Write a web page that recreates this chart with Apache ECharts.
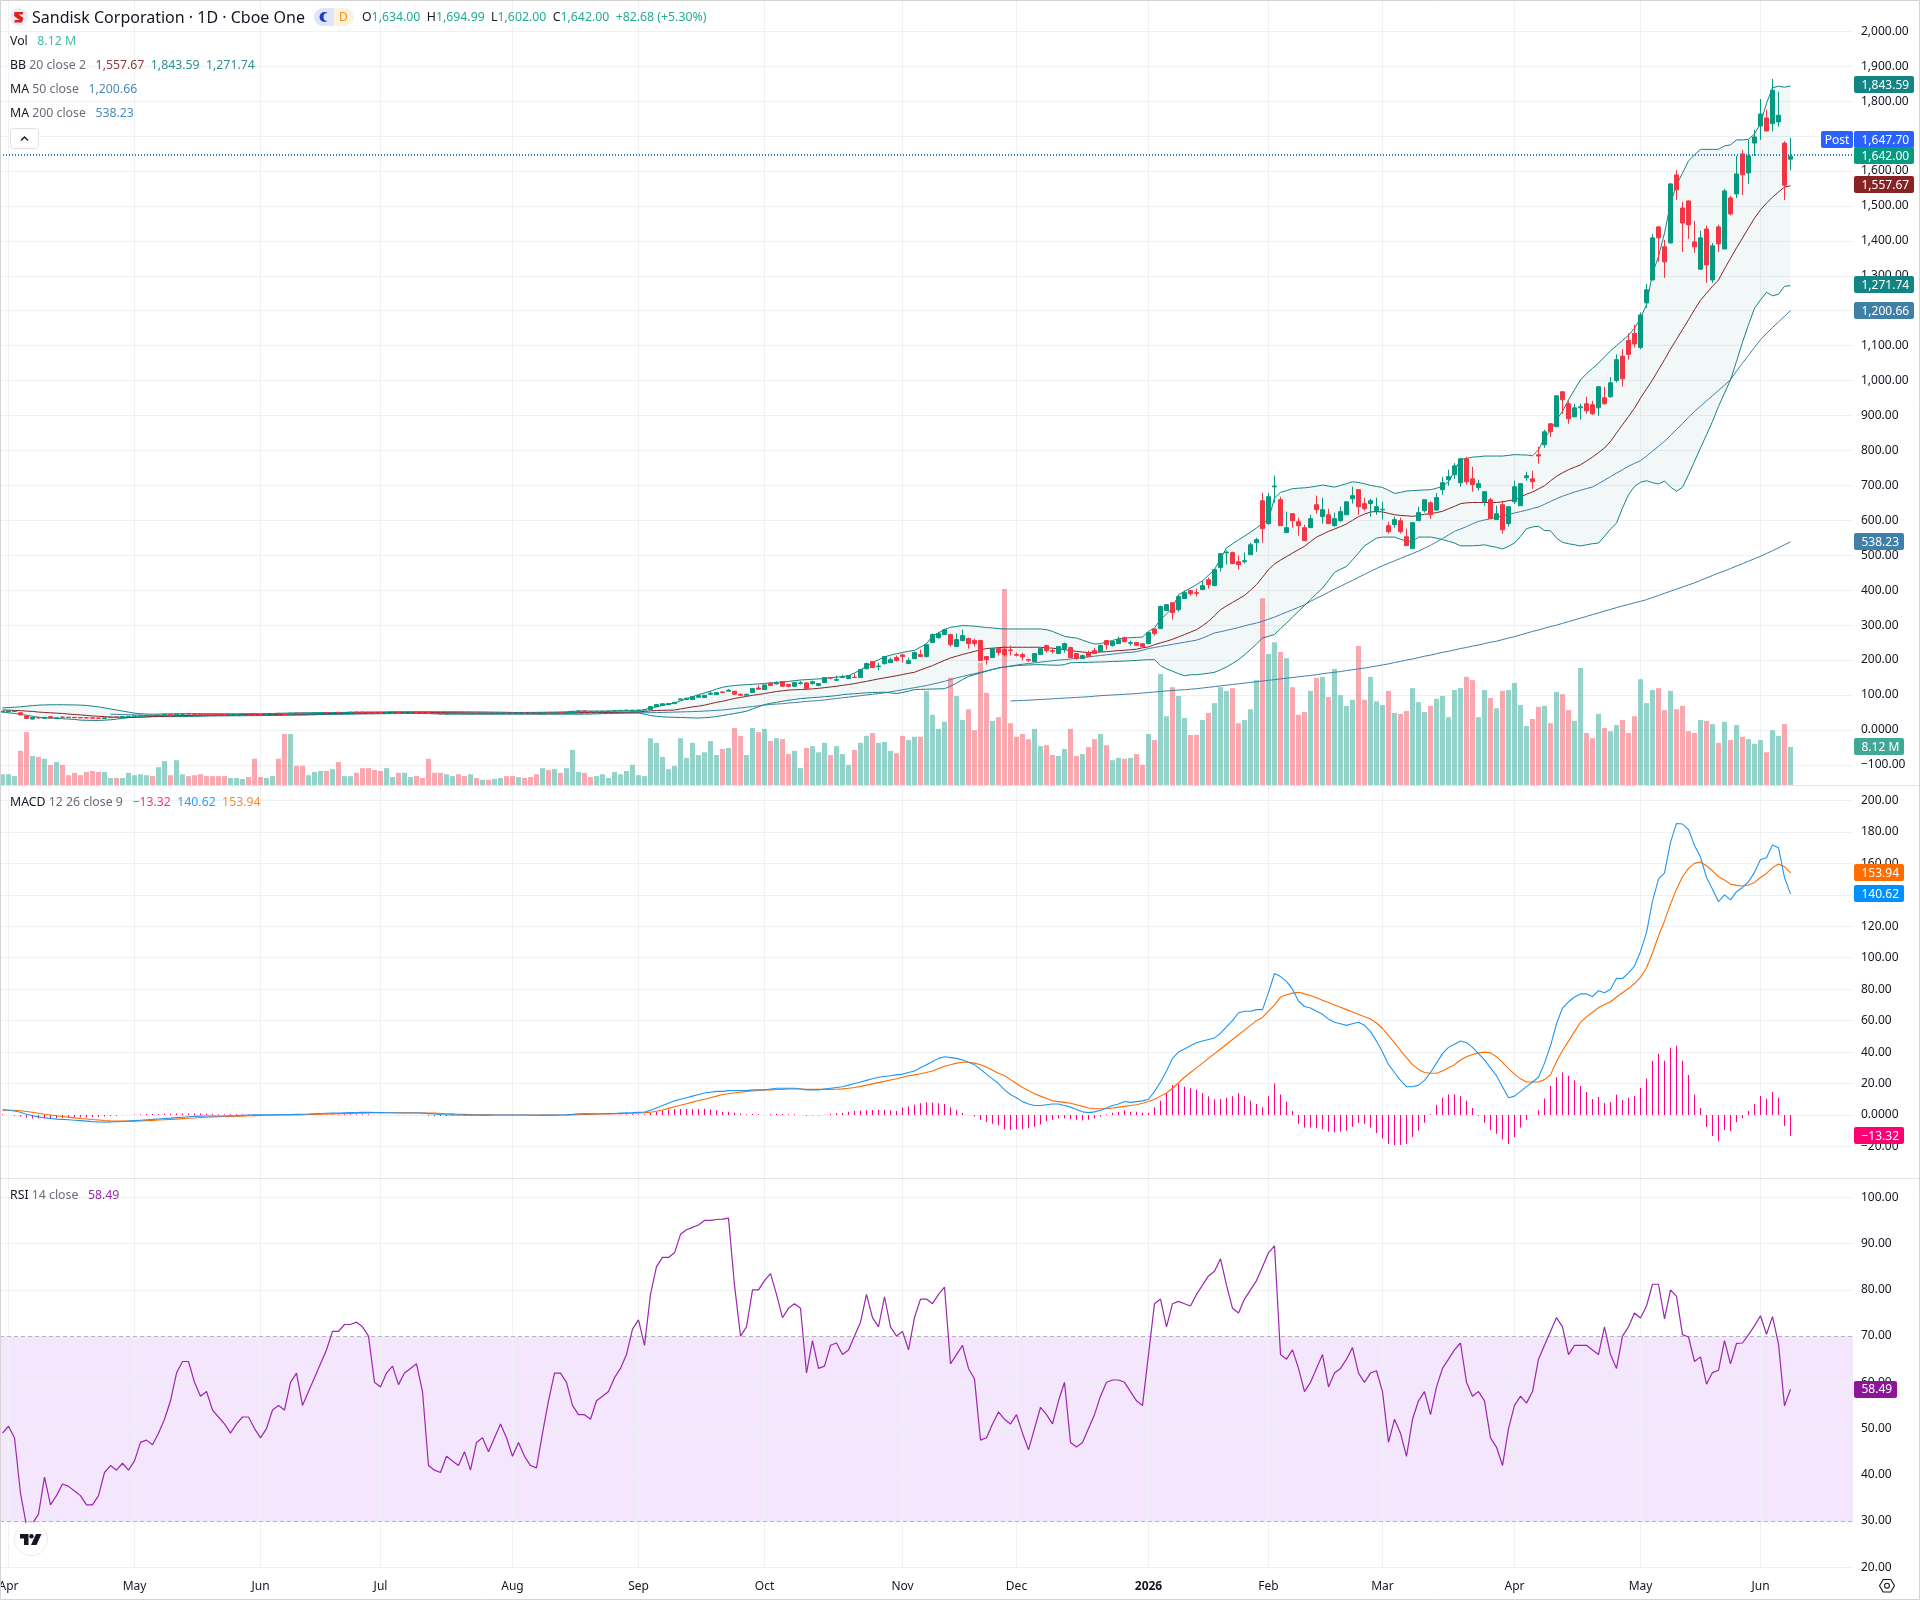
<!DOCTYPE html>
<html>
<head>
<meta charset="utf-8">
<title>Sandisk Corporation 1D</title>
<script src="https://cdn.jsdelivr.net/npm/echarts@6/dist/echarts.min.js"></script>
<style>html,body{margin:0;padding:0;background:#fff}#chart{width:1920px;height:1600px}</style>
</head>
<body>
<div id="chart"></div>
<script>
// Daily bars, oldest first: open, high, low, close, volume (millions)
const opens = [
51,52,53,49,40,31,36,33,38,33,
37,36.5,36,35.5,35,34.5,34,33,35,37,
37,38,39,40,40.5,41.5,40.5,43,44.5,43.5,
45,46,45.5,45,44.5,44,44,43.5,43,44,
45,46,47,44.5,44,45,47.5,46.5,44,48,
47.5,46.5,47.5,48.5,49.5,48.5,50.5,49,50,51,
51,50.5,50,49.5,48.5,50,50.5,49.5,50.5,51,
50.5,50.5,47.5,46.5,45.5,47,48,47,46,47.5,
46.5,47.5,46.5,47.5,48.5,48,47,48.5,47.5,47,
45.5,48,46.5,49,47,50,53,54.5,52.5,51,
52,53,54,55,56,54,55,57,58,66.8,
70,72.5,75.3,86,87,87,93.5,92.6,102,101,
108.8,110.7,110.7,102,99.2,106.9,120,115.5,133.6,131.7,
138.3,129.8,125,133,134.6,132.6,127,135.5,149.8,142,
149.8,147,151,149.8,175.6,195.6,181,189.9,192.7,207,
214.7,189.9,204,215.6,210,250,264,272.8,272.8,238.5,
255.7,261.4,255.7,255.7,210,207,232.8,230,229,215.6,
215.6,201.3,195.6,215.6,241.4,227,218.5,232.8,235.6,218.5,
204,221.3,227,224,255.7,241.4,247,264,248,250,
247,247,289,290,341.5,364,344,376,398.8,393,
401.6,430,413,464.6,507,507.5,481.7,481.7,501.8,536,
656,590.4,696,659,564.7,619,596,579,579,644.8,
610.5,616,584.7,599,616,662,687.7,647.7,647.7,627.6,
630,584.7,587.6,599,553,519,599,627.6,650,629.5,
687.7,716,730.6,707.7,776,719,693.4,653.3,659,602,
644.8,590.4,653.3,641.9,722,719,787.8,816.4,876.5,868,
968,933.7,896.5,922,933.7,931,922,951,953.8,1000,
1070,1115,1135,1095,1222.6,1288,1440,1383,1394,1588.9,
1494,1514.5,1397,1319,1434,1288,1440,1377,1523,1534.5,
1649,1594.6,1680,1729,1752,1735.7,1740.5,1680,1634];
const highs = [
54,56,54.5,50,41,36.5,37,37,39,36,
38,37,36.5,36,35.5,35,34.5,35,37,37.5,
38.5,39.5,40.5,41,41.5,42,43,45,45,45.5,
46,46.5,46,45.5,45,44.5,44.3,44,44,45,
46,46.5,47.5,45,45,46.5,48,47,48,48.5,
48,47.5,48.5,49.5,50,50,51,50,51,51.5,
51.5,51,50.5,50,50,51,51,50.5,51,51.5,
51,51,48,47,47,48,48.5,47.5,47.5,48,
47.5,48,47.5,48.5,49,48.5,48.5,49,48,47.5,
48,48.5,49,49.5,50,54,54.5,55,53,52.5,
53.5,54,55.5,56,57,57,57.5,58,67,73,
76,76,80,89.5,91.5,96,99,100,110.7,107.5,
110,117,111.5,104,103,118.8,128,129.5,137,139,
139,130,138,140,136,141,134,151,151,155.5,
158,156,161,174,192.7,197,192,210,207,212.8,
218.5,207,224,230,247,275.7,281,290,275.7,275.7,
287,264,261.4,258.5,210,233,235.6,241,241,221,
221,204,219,233,244,232.8,239,250,238.5,221,
215.6,227,235.6,244,256,255.7,267,267,255.7,251,
248,281.5,289,356,359,364.4,387,398.8,401.6,404.5,
427,436,461.7,506.5,513,510,499,507.5,536,550,
679,679,727.8,667.7,624.8,619,607.6,587.6,616,670.6,
664.8,633,622,639,653,696,688,665,662,665,
653,596,610.5,607.6,576,593.5,639,659,655,678,
724,745,764,779,782,753.5,716,684,665,642,
656,640,713.4,705,739,742,810.7,859.3,877,957,
968.5,942,933.7,933.7,953.8,942,985,982.4,1010,1075,
1090,1135,1160,1195,1277,1420,1443,1403,1566,1603,
1511.6,1515,1457,1428.7,1443,1394,1446,1549,1529,1643,
1660,1689,1718,1806,1775,1863.5,1827,1685,1694.99];
const lows = [
50,51,51,42,31,30,33,32,33.5,32,
35,35,34.5,34,33.5,33,33,32.8,34.8,36,
36.5,37.8,38.5,39.5,40,40,40.3,42.8,43,43.2,
44.5,45,44.5,44,43.5,43,43,42.5,42.8,43.8,
44.8,45,44,43.5,43.8,44.8,45.5,43,43.8,46.5,
46,46.2,47.2,48.2,48,48.3,48.5,48.8,49.8,50,
49.5,49,48.5,48,48.3,49.8,49,49.3,50.2,49.8,
49.5,47,46,45,45.3,46.8,46.5,45.5,45.8,46,
46.3,46,46.3,47.3,47,46.5,46.8,47,46,45,
45.3,46,46.3,46.5,46.8,49.8,52.5,52,50.5,50.8,
51.8,52.8,53.8,54.8,55.5,53.8,54.8,56.5,57.8,66,
69.5,72,75,85.5,86.5,86.5,93,92,101,100.5,
106,110,101.5,97.5,98.5,106,116,115,126,130.5,
124.5,122,124.5,130,117,130,125,134,146,141,
149,146,149,149,172.7,177,170,187,192,195.6,
192.7,189,204,209,207,249,261,272,238.5,238,
255,232.8,238.5,198,187,206,212.8,210,212.8,210,
198.4,194.6,195,215,221.3,218.5,218,221,207,201,
204,210,218,224,230,238.5,246,250,241.4,240,
237,247,270,290,341,315.8,338.7,376,384,381.6,
401,404.5,412,453,473,475,459,476,501,510,
536,587.6,650.5,584,564,579,556,541,578,619,
590.4,590,582,596,616,647.7,616,627.6,610,616,
602,562,579,562,527,518,598,622,604,627,
673,699,719,696,702,682,685,642,604,601,
561.8,581.8,647,642,713.4,690,762,807.8,839,868,
905,876.5,895,888,905,902,899.4,931,951,995,
983,1060,1095,1090,1208,1288,1340,1294,1394,1517,
1368.6,1406,1366,1317,1280,1280,1368,1375,1473,1523,
1531,1563,1643,1689,1713,1712.9,1727,1517,1602];
const closes = [
53,54,54,43,33,35.5,34,36,34,35,
36,35.5,35,34.5,34,33.5,33.2,34.5,36.5,36.4,
38,39,40,40.8,41,40.5,42.5,44.5,43.5,45,
45.8,45.4,45,44.5,44,43.5,43.4,43,43.8,44.8,
45.8,45.5,44.5,44,44.8,46.2,46,44,47.5,47,
46.5,47.2,48.2,49.2,48.5,49.8,49,49.8,50.8,50.4,
50,49.5,49,48.4,49.8,50.6,49.5,50.2,50.8,50.2,
50,47.5,46.5,45.5,46.8,47.8,47,46,47.2,46.5,
47.2,46.5,47.3,48.2,47.5,47,48.2,47.5,46.5,45.5,
47.5,46.5,48.5,47,49.5,53,54,52.5,51,52,
53,53.8,55,55.8,56.5,56.5,57,57.8,66.8,72.5,
75,75.5,79,88.8,90.7,95.4,98.3,99.3,105,106.9,
106.9,113.6,102.1,99.2,102,118.3,116.4,128.8,126.9,134.5,
125,125,135.5,134.5,118.3,138,132.6,149.8,148,144,
151.5,155.5,150,172.7,189.9,178.4,183,209.9,201,198.4,
210,198.4,221.3,210,244,272.8,275.7,287,244,258.5,
270,247,247,198.4,201.3,232.8,221.3,215.6,227,213.7,
209,199.4,218.5,232.8,227,225,238.5,247,207,204,
212.8,210,218.5,241.4,244,252.8,258.5,252.8,249.9,242.3,
238.5,278.6,275.7,353,358.7,336,381.6,393,390,391,
413,416,458.8,504.6,509,476,473,484.6,530,544.7,
576,667.7,698,584.7,579,599,584.7,541.8,604.7,630.5,
630.5,590.4,604.7,624.8,653,670.6,639,633,656,639,
632,567.6,601.9,567.6,527.5,593.3,622,659,616,665,
707.7,724.9,756,776,710.6,702,705,682,604.7,619,
573,639,696,704.8,727.7,710.6,784,853.6,853.6,956.6,
945,891,922,925,913.7,905,982.4,933.7,993.8,1060,
1005,1075,1105,1188,1259.8,1408.6,1408.6,1340,1563,1546,
1451,1445.8,1383,1408.6,1331,1385.7,1391.5,1543,1477,1591.7,
1589,1643,1697.6,1763,1714.8,1831,1759.6,1559.32,1642];
const volumes = [
2.3,2.3,1.9,7.3,11.3,6.2,6,5.6,4.3,4.9,
4.3,2.1,2.6,2.1,2.8,3,2.8,2.8,1.5,1.5,
1.5,2.6,2.1,2.3,2.1,1.9,3.8,5.1,2.1,5.3,
2.3,1.9,2.1,2.3,1.9,1.9,1.9,1.9,1.5,1.5,
1.3,1.7,5.6,1.7,1.5,1.9,5.6,10.9,10.9,4.1,
4.1,2.1,2.8,3,3,3.4,4.9,1.9,1.9,2.6,
3.6,3.6,3.2,3,3.6,1.7,2.6,2.6,1.7,1.9,
1.5,5.6,2.6,2.6,2.3,1.9,2.3,1.9,2.3,1.5,
1.1,1.1,1.3,1.5,1.9,1.9,1.7,1.5,1.7,2.3,
3.6,3.2,3.4,2.6,3.6,7.5,2.8,2.6,1.7,1.9,
2.3,1.5,2.8,2.3,3,4.3,2.1,1.9,10,9,
6,3.4,4.1,10,5.8,9,6.4,7,9.4,6.4,
7.7,7.9,12.2,10.5,6.4,12.2,11.3,12,9.4,10,
9.8,6.6,7.3,3.6,7.9,8.3,7,9,6.4,8.3,
6.6,4.3,7.5,9,10.5,11.1,9,9.2,7.3,6.8,
10.5,9.6,10.3,10.3,20.1,15,12,13.5,22.9,19,
13.9,16.2,11.7,26.1,19.7,13.7,14.5,41.9,13.2,10.3,
10.9,9.8,12,8.3,8.5,6.4,6.2,7.7,12,6.2,
6.6,8.1,9.8,10.9,8.5,5.3,5.8,5.6,5.8,6.6,
4.3,10.9,9.6,23.7,14.7,20.9,19,14.3,10.7,10.7,
13.9,15.4,17.5,20.9,20.1,20.7,13.2,13.9,16.2,22.4,
39.9,28,30.5,28.4,27.1,20.9,15,15.6,20.1,22.9,
23.1,18.8,24.8,19.2,16.9,18.2,29.7,18.2,23.1,17.9,
17.1,20.1,15.4,15.2,15.8,20.7,17.7,15.6,16.9,18.4,
19,14.5,20.3,20.7,23.1,22.4,14.5,20.3,18.6,16.4,
20.1,20.3,21.8,17.1,12.6,14.1,16.7,16.9,13.2,19.9,
19.4,16,13.7,25,11.1,10,15.2,12.2,11.5,12.8,
13.9,11.1,14.7,22.6,17.5,20.3,20.7,16,20.1,16.2,
16.9,11.5,11.1,13.9,13.7,13,9,13.5,9.6,12.8,
10.3,9.8,8.8,9.6,7,11.7,10.5,13,8.12];

// Bollinger Bands (20, close, 2)
const bbUpper = [
63,64,65,66,68,69.5,71,71.5,72,72,
72,71.8,71.5,71,70,68,66,63,60,57,
54,51,48,46.5,45.5,45,45.5,46,46,46.5,
46.5,46.5,46.5,46.5,46.5,46.5,46.5,46.3,46.2,46,
46,46,46.2,46.5,46.8,47,47.5,48,48.5,48.8,
49,49.2,49.3,49.4,49.5,49.5,49.8,50.2,50.5,50.8,
51,51.2,51.4,51.6,51.8,52,52,52,52,52,
52,52,52,52,52,52,51.9,51.8,51.7,51.6,
51.5,51.2,51,50.8,50.5,50,50,50,50.2,50.3,
50.5,50.8,51,51.5,52,53,54,54,54,54,
54,54,54.2,54.5,54.8,55,55,58,63,66,
70,74,77,83,89,95,101,106,111,117,
122,125,127,128.5,129.5,130.5,131.7,133,134.5,136,
137.5,139,141,143,144,145,146,147,149,151,
153,155,163,172,182,193,201,209,214,218,
222,225,228,237,247,268,278,287,294,296,
298.6,298,297,295,293,292,290,289,289,289,
289,289,289,289,287,282,275,268,265,263,
257,251,246,247,252,256,261,263,264,265,
266,282,292,316,332,349,387,397,406,416,
427,443,459,490,521,533,544,555,566,578,
592,602,664,680,685,690.6,692,693,695,698,
701,698,695,700,705,710.6,708,705,700,697,
694,686,677,680,684,685,686,687,687.7,692,
697,711,740,775,777,781,782,784,784,784,
784,786,788,787.5,787,785,802,836,857,888,
912,945,974,1002,1020,1035,1050,1068,1085,1100,
1115,1130,1150,1179,1217,1307,1355,1422,1508,1560,
1594,1629,1646,1662,1662,1662,1662,1672,1675,1689,
1689,1691,1706,1737,1794,1838,1843,1840,1843.59];
const bbBasis = [
57,56.5,56,55,54,53,51,50,49,48,
47,45.5,44,43,41.5,40,39,38,37,36.5,
36,36,36,36.5,37,38,38.5,39,39.7,40.4,
41,41.5,41.9,42.3,42.7,43,43.2,43.5,43.7,43.8,
44,44,44,44,44,44,44.3,44.6,45,45.2,
45.5,45.8,46,46.4,46.7,47,47.4,47.8,48.2,48.6,
49,49.2,49.4,49.6,49.8,50,50,50,50,50,
50,49.8,49.6,49.4,49.2,49,48.8,48.6,48.4,48.2,
48,47.9,47.8,47.7,47.6,47.5,47.6,47.6,47.7,47.7,
47.8,47.9,48,48.2,48.5,48.8,49.2,49.5,49.8,50,
50.2,50.4,50.6,50.8,51,51.3,51.6,53,54.5,55.5,
56,56.5,57,60,63,66,68,71,75,79,
82,86,90,93,96,99,101.5,104,107,110,
112,114,115,115.5,116.5,117.5,119,121,123,125,
127.5,130,132.6,136,139,142.5,146,149,152,155,
158.5,162,165,172,178,184,192,199,206,211,
216,220.4,225,229,233,234,235.5,236.6,236.6,236.6,
236.6,236.6,236.6,236.6,235,234,232,230,227,225,
223,221.3,222,223,224,225.5,227,228,229.5,231,
235,237.6,244,249,254,259.5,266,273,280,287,
298,311,327,344,355,365,375,385,400,416,
437,459,475,486,496,506.5,516,525.6,539,552,
560,568.5,575,582,589.5,600,610.5,618,624,625,
624,620,616,614,613,611.5,614,617,619.5,622,
626,633,640,647.6,650,651,651,651,651,651,
653,656,659,667,675,681,690,699,713,726,
736,745,752,759,770,781,794,807,826,850,
873.6,897,921,950,976,1002,1031,1060,1090,1118,
1146,1174,1203,1230,1250,1270,1288,1320,1350,1380,
1408,1437,1465,1489,1508,1525,1540,1554,1557.67];
const bbLower = [
51.6,49,47,45,42,39,36,35,34,33,
32,31,30,28,27.5,27.2,27,28,29,31,
33,35,37,37.5,38,38,38,38,38,38,
38,38.5,39,39.6,40.4,41,41.3,41.6,41.8,42,
42,42,42,42,42,42,42.3,42.5,42.8,43,
43,43.4,43.8,44.2,44.6,45,45.4,45.8,46.2,46.6,
47,47.2,47.4,47.6,47.8,48,47.8,47.6,47.4,47.2,
47,46.6,46.2,45.8,45.4,45,45,45,45,45,
45,45,45,45,45,45,45,45,45,45,
45,45,45,45,45,45,45,45,45.5,46,
46.5,47,47.5,48,48.3,48.5,48.7,45,41,39,
37.5,36.5,36,35.5,35,34.5,34,35,36,38.5,
41,44,47,50,53.5,60,66,72.6,76,79,
82,85,87,89.7,91,92.5,93.5,95,96.5,98,
101,102.5,103.5,105,106,107,107.5,108,106,104,
107,111,115.5,116,116.5,117,117.5,118,125,134,
144,153,158,163,168,173,177.5,180,182,184,
185,186,186.5,187,186,185.5,185,187,192,193,
193,193.5,194,194.5,195,196,196.5,197,198,199,
200,201,201,184,174.6,168,161,155,158,158,
160,162,165,172,180,190,201,215,230,246,
263,268,273,290,306,323,339.6,356,373,390,
406,428,451,460,468,487,506.5,527,538,549,
552,552,552,546,540,540,552,552,552,549,
544.6,540,535,527,527,527,528,530,526,522.7,
518,525.5,535,554,576,581,583,571,570,549.4,
537,533,530,526.5,530,533,535,554,575,592,
635,673.4,697,708.7,713.4,707.7,704,712.5,695.3,683,
695,730.6,768.7,807,845,883,926,964,1002,1055,
1110,1160,1207,1231,1253,1242.7,1247,1270,1271.74];

// Moving averages of close; null until enough history exists
const ma50 = [
null,null,null,null,null,null,null,null,null,null,
null,null,null,null,null,null,null,null,45,44.5,
44,43.5,43,42.5,42,41.5,41,40.8,40.6,40.4,
40.2,40.1,40,40,40,40,40,40.1,40.2,40.3,
40.5,40.7,40.9,41.1,41.3,41.5,41.8,42.1,42.4,42.7,
43,43.3,43.6,43.9,44.2,44.5,44.8,45,45.2,45.4,
45.6,45.8,46,46.2,46.4,46.6,46.8,47,47.2,47.3,
47.4,47.5,47.6,47.7,47.8,47.9,48,48,48,48,
48,48,48,48,48,48,48,48,48,48,
48,48,48,48,48.1,48.2,48.3,48.4,48.5,48.6,
48.7,48.8,48.9,49,49,49,49,49.2,49.4,49.7,
50,50.5,51,51.5,52,52.5,53,54,55,56,
57,59,61,63,65,67,69,71,73,74,
75,77,78.5,80,81.5,83,84,86,88,90,
92,94,96,98,100,102,104,106,109,112,
115,118,121,124,127,131,135,139,144,149,
153,157,161,165,169,173,177,180,183,185.5,
188,190,192,194,196,198,200,201,203,205,
207,209,211,213,215,217,219,221,222,224,
228,233,236,239,242,245,248,251,254,257,
263,270,277.6,281,285,289,293,298,302,306,
311,317,323,330,337,344,351,358,368,377,
385,394,403,411,420,428,437,445,454,462,
470,477,484,491,498,505,512,520,528.4,538,
548,558,568.5,575,582,590,597,601,605,609,
613,617,621,625,629,634,638,646,654,662,
669,675,681,686,691,695.3,705,715,725,735,
745,755,763,770.7,784,798,812,826,843,860,
877,895,911.8,927,942,957,972,987,1002.4,1027,
1050,1072,1095,1117,1135,1152,1168,1184,1200.66];
const ma200 = [
83,83.5,84.5,85,86,87,88,89,90,91,92,93,
94,95,96.5,98,99,100,101,102,103,104,
105.5,107,108.5,110,111.5,113,114,115,116.5,118,
120,122,124,126,128,130,132,134,136,138,
140,142,144,146,148,150,152,154,156,158,
161,163,165,167,170,172,175,177,180,183,
186,189,193,196,200,203,207,211,214,218,
222,225,229,233,236,240,243,247,251,254,
258.5,263,267,272,277,282,286,291,296,300,
305,310,315,320,325,330,335,340,345,350,
355,359,364,368,373,379,385,391,397,403,
409,415,421,428,435,442,449,455,462,469,
476,483,490,497,505,513,521,530,538.23];
const ma200Start = 168;

// MACD (12, 26, close, 9)
const macdLine = [
3.5,3,2.5,1.8,.5,-.5,-1.2,-1.8,-2.2,-2.6,
-2.8,-3,-3.3,-3.6,-3.9,-4.2,-4.4,-4.5,-4.4,-4.3,
-4.1,-3.9,-3.6,-3.3,-3,-2.8,-2.5,-2.2,-2,-1.7,
-1.4,-1.1,-.9,-.7,-.6,-.6,-.6,-.6,-.5,-.4,
-.2,0,.1,.1,.1,.2,.3,.2,.3,.4,
.5,.6,.8,1,1.1,1.2,1.3,1.4,1.5,1.6,
1.7,1.7,1.6,1.5,1.4,1.4,1.3,1.3,1.3,1.3,
1.2,.9,.6,.3,.2,.1,0,-.1,-.1,-.1,
-.1,-.1,0,0,0,0,0,0,-.1,-.2,
-.1,-.1,0,0,.1,.4,.8,.9,.8,.8,
.8,.9,1,1.2,1.4,1.5,1.7,1.9,3,4.5,
6,7.5,9,10,11,12,13,14,14.5,15,
15,15.5,15.5,15.5,15.5,16,16,16,16.5,17,
17,17,17,16.5,16,16,16,16.5,17,17.5,
18,19,20,21,22,23,24,24.5,25,25.5,
26,27,28,30,32,34,36,37,36.5,36,
35,33.5,32,29,26,23,20,16,13,11,
8.5,7,6,6,6.5,7,7,6,5,3.5,
2,1.5,2,3,4.5,6,7,8.6,8,8.5,
9,10,15,21,28,36,40,42,44,46,
47,48,49,52,56,60,65,66,66,67,
67,78,90,88,85,80,72.5,69,68,66,
64,61,59,58,57,58,59,57,53,47,
40,32,27,22,18,18,19,22,27,33,
39,43,45,47,46,43,39,35,30,25,
18,11,12,15,18,21,24,33,44,58,
68,72,75,77,77,75.3,79,77.7,80,87,
86.8,90.4,94.7,104,116,136,150,154,173.4,185.4,
185,181.5,171.3,164,151,143.6,135.6,140,136.8,142,
144.7,148.3,154.3,162.4,163.6,171.7,170,151,140.62];
const macdSignal = [
3,3,3,2.7,2.2,1.7,1.1,.5,0,-.5,
-1,-1.4,-1.8,-2.2,-2.5,-2.9,-3.2,-3.5,-3.7,-3.8,
-3.9,-3.9,-3.9,-3.8,-3.6,-3.4,-3.2,-3,-2.8,-2.6,
-2.3,-2.1,-1.9,-1.6,-1.4,-1.2,-1.1,-1,-.9,-.8,
-.7,-.5,-.4,-.3,-.2,-.1,0,0,.1,.1,
.2,.3,.4,.5,.6,.7,.8,.9,1,1.1,
1.2,1.3,1.4,1.4,1.4,1.4,1.4,1.4,1.4,1.4,
1.3,1.3,1.2,1,.8,.7,.5,.4,.3,.2,
.1,.1,0,0,0,0,0,0,0,-.1,
-.1,-.1,-.1,0,0,.1,.2,.3,.4,.5,
.6,.7,.8,.9,1,1.1,1.3,1.5,1.8,2.4,
3.2,4.2,5.2,6.2,7.2,8.2,9.2,10,11,12,
13,13.5,14,14.5,15,15.3,15.6,16,16,16.2,
16.3,16.5,16.5,16.5,16.4,16.3,16.3,16.3,16.3,16.4,
16.6,17,17.5,18.2,19,19.8,20.6,21.4,22.2,23,
24,25,25.5,26.2,27,28,29.5,31,32,33,
33.5,33.5,33,32,30.5,28.5,26.5,25,22.5,20,
17.5,15.5,13.5,12,10.5,9,8.5,8,7.5,6.5,
5.5,4.5,4,4,4,4.5,5,5.5,6,6.5,
7.5,8.6,10,12,14,17,20.5,24,27,30,
33,36,39,42,45,48,51,54,57,60,
62,66,70,75,76.5,77.5,78,77,76,74.5,
73,71.5,70,68.5,67,65.5,64,62.5,61,58.5,
55,50.5,46,41,36.5,32,29,27,26.5,26.5,
28,30,32,35,37,38.5,39.5,40,39.5,37,
33.5,29.5,26,23,21,21,21,22.5,25.5,34,
41,47,53,59,62.4,65.3,68.3,70.2,72,75,
77.7,80.4,83.6,87.5,93.6,103,113.8,123.4,134,143.6,
151.5,156.8,160,160.9,158.5,155.3,151.5,149.4,146.8,146,
145.6,146.2,147.9,151,153.6,157.3,159.6,157.9,153.94];
const macdHist = [
.5,0,-.5,-.9,-1.7,-2.2,-2.3,-2.3,-2.2,-2.1,
-1.8,-1.6,-1.5,-1.4,-1.4,-1.3,-1.2,-1,-.7,-.5,
-.2,0,.3,.5,.6,.6,.7,.8,.8,.9,
.9,1,1,.9,.8,.6,.5,.4,.4,.4,
.5,.5,.5,.4,.3,.3,.3,.2,.2,.3,
.3,.3,.4,.5,.5,.5,.5,.5,.5,.5,
.5,.4,.2,.1,0,0,-.1,-.1,-.1,-.1,
-.1,-.4,-.6,-.7,-.6,-.6,-.5,-.5,-.4,-.3,
-.2,-.2,0,0,0,0,0,0,0,0,
0,0,.1,0,.1,.3,.6,.6,.4,.3,
.2,.2,.2,.3,.4,.4,.4,.4,1.2,2.1,
2.8,3.3,3.8,3.8,3.8,3.8,3.8,4,3.5,3,
2,2,1.5,1,.5,.7,.4,0,.5,.8,
.7,.5,.5,0,-.4,-.3,-.3,.2,.7,1.1,
1.4,2,2.5,2.8,3,3.2,3.4,3.1,2.8,2.5,
4.7,5.5,6.5,7.5,8,8,7.5,7,5,3,
1.5,0,-1,-3,-4.5,-5.5,-6.5,-9,-9.5,-9,
-9,-8.5,-7.5,-6,-4,-3,-2,-2,-2.5,-3,
-3.5,-3,-2,-1,.5,1.5,2,3,2,2,
1.5,1.4,5,9,14,19,19.5,18,17,16,
14,12,10,10,11,12,14,12,9,7,
5,12,20,13,8.5,2.5,-5.5,-8,-8,-8.5,
-9,-10.5,-11,-10.5,-10,-7.5,-5,-5.5,-8,-11.5,
-15,-18.5,-19,-19,-18.5,-14,-10,-5,.5,6.5,
11,13,13,12,9,4.5,-.5,-5,-9.5,-12,
-15.5,-18.5,-14,-8,-3,0,3,10.5,18.5,24,
27,25,22,18.5,14.7,10.2,11.5,7.7,8.3,12.8,
9.6,10.9,12.1,17.2,23,34.5,39,34.5,42.8,44,
34.5,25.5,12.8,4.5,-7.7,-13.4,-16.6,-9.6,-10.2,-4.5,
-1.9,2.6,7,12.1,10.2,14.7,10.9,-7,-13.32];

// RSI (14, close)
const rsiLine = [
49,50.5,48,36,29,29.5,31.5,39.5,33.5,35.5,
38,37.5,36.5,35.5,33.5,33.5,35.5,40.5,42,41,
42.5,41,43,47,47.5,46.5,49,52,56,62,
64.5,64.5,60,57,58,54,52.5,51,49,51,
52.5,52.5,50,48,50,54,55,54,60,62,
55,58,61,64,67,71,71,72.5,72.5,73,
72,70,60,59,62,63.5,59.5,62,63,64,
58,42,41,40.5,44,43,42,45,41,47,
48,45,48,51,48,44,47,44,42,41.5,
49,56,62,62,60,55,53,53,52,56,
57,58,61,63,66,71.5,73.5,68,79,85,
87,87,88,92,93,93.5,94,95,95,95.2,
95.3,95.5,81,70,72,80,80,82,83.5,79,
74,76,77,76,62,69,63,63.5,68,68.5,
66,67,70,73,79,74,72,78.5,72,70,
71,67,74,78,78,77,79,80.6,64,66,
68,63,60.7,47.5,48,51,53.6,52,51,53,
49,45.4,50,54.6,53,51,56,60,47,46,
47,50,53,57,60,60.5,60.5,60,58,56,
55,66,77,78,72,77,77.5,77,76.5,79,
81,83,84,86.7,81,76,75,78,80,82,
85,88,89.5,66,65,67,63,58,60,63,
66,59,62,63,65,67.5,62,60,62,62.5,
58,47,52,49,44,52,56,58,53,59,
63,65,67,68.5,60,57,58,56,48,46,
42,50,55,57,55.5,58,65,68,71,74,
72,66,68,68,68,67,66,72,66,63,
70,72,75,73.9,76.5,81.2,81.2,73.7,80,78.6,
70.3,69.8,64.5,65.5,59.6,62.1,62.6,69,64,68.4,
68.5,70.3,72.2,74.4,70.4,74.2,68.3,54.9,58.49];

// Axis ticks and month boundaries
const priceTicks = [-100,0,100,200,300,400,500,600,700,800,900,1000,1100,1200,1300,1400,1500,1600,1700,1800,1900,2000];
const macdTicks = [-20,0,20,40,60,80,100,120,140,160,180,200];
const rsiTicks = [20,30,40,50,60,70,80,90,100];
const monthBars = [1,22,43,63,85,106,127,150,169,191,211,230,252,273,293];
const monthNames = ['Apr','May','Jun','Jul','Aug','Sep','Oct','Nov','Dec','2026','Feb','Mar','Apr','May','Jun'];

// Pane extents in value space
const priceRange = [-157.7, 2086.7];
const volumeRange = [0, 167.5];
const macdRange = [-40.06, 209.2];
const rsiRange = [20, 103.96];

const UP = '#089981', DOWN = '#f23645';
const FONT = '"Noto Sans", sans-serif';
const INK = '#131722';
const GRID = '#f0f1f4';
const BAND_LINE = '#138484', BASIS_LINE = '#872323', MA_LINE = '#3f7fa8';
const ROW_FONT = '12.3px ' + FONT;

// Ten empty sessions of right margin follow the last bar.
const slotCount = 309;
const categories = Array.from({length: slotCount}, (_, i) => String(i));
const isUp = i => closes[i] >= opens[i];

const candles = closes.map((c, i) => [opens[i], c, lows[i], highs[i]]);
const volumeBars = volumes.map((v, i) => ({
  value: v,
  itemStyle: {color: isUp(i) ? 'rgba(8,153,129,0.43)' : 'rgba(242,54,69,0.43)'}
}));
const ma200Full = new Array(ma200Start).fill(null).concat(ma200);
const bandWidth = bbUpper.map((u, i) => +(u - bbLower[i]).toFixed(2));

const chart = echarts.init(document.getElementById('chart'), null, {renderer: 'canvas', width: 1920, height: 1600});

const monthSlot = new Set(monthBars);
const panes = [
  {top: 1, height: 784},
  {top: 786, height: 392},
  {top: 1179, height: 388.3}
];
// Labels may run off the canvas edge, so the plot rectangles stay exactly as given.
const categoryGrids = panes.map(p => ({left: 2.5, width: 1848, top: p.top, height: p.height, containLabel: false, outerBoundsMode: 'none'}));
const scaleGrids = panes.map(p => ({left: 0, width: 1853, top: p.top, height: p.height, containLabel: false, outerBoundsMode: 'none'}));

const categoryAxis = (grid, withLabels) => ({
  type: 'category', gridIndex: grid, data: categories, boundaryGap: false,
  axisLine: {show: false}, axisTick: {show: false},
  splitLine: {show: true, interval: idx => monthSlot.has(idx), lineStyle: {color: GRID, width: 1}},
  axisLabel: withLabels ? {
    show: true, interval: idx => monthSlot.has(idx), hideOverlap: false, margin: 13,
    color: INK, fontFamily: FONT, fontSize: 12,
    formatter: (v, idx) => {
      const name = monthNames[monthBars.indexOf(idx)];
      return name === '2026' ? '{y|2026}' : (name || '');
    },
    rich: {y: {fontWeight: 'bold', color: INK, fontFamily: FONT, fontSize: 12}}
  } : {show: false}
});
const scaleOnlyAxis = (grid, range) => ({
  type: 'value', gridIndex: grid, min: range[0], max: range[1], show: false, splitLine: {show: false}
});
const money = v => {
  if (v === 0) return '0.0000';
  const s = Math.abs(v).toLocaleString('en-US', {minimumFractionDigits: 2, maximumFractionDigits: 2});
  return (v < 0 ? '\u2212' : '') + s;
};
const labelAxis = (grid, range, ticks, padding) => ({
  type: 'value', gridIndex: grid, position: 'right', min: range[0], max: range[1],
  axisLine: {show: false},
  axisTick: {show: false, customValues: ticks},
  splitLine: {show: true, customValues: ticks, lineStyle: {color: GRID, width: 1}},
  axisLabel: {show: true, customValues: ticks, margin: 8, padding, color: INK, fontFamily: FONT, fontSize: 12, formatter: money, showMinLabel: true, showMaxLabel: true}
});

const plainLine = (name, data, color, xi, yi, z, width) => ({
  name, type: 'line', data, xAxisIndex: xi, yAxisIndex: yi, showSymbol: false, silent: true,
  lineStyle: {color, width: width || 1}, itemStyle: {color}, z, emphasis: {disabled: true}, animation: false
});

chart.setOption({
  animation: false,
  backgroundColor: '#ffffff',
  textStyle: {fontFamily: FONT},
  grid: categoryGrids.concat(scaleGrids),
  xAxis: [
    categoryAxis(0, false), categoryAxis(1, false), categoryAxis(2, true),
    {type: 'value', gridIndex: 3, min: 0, max: 1, show: false},
    {type: 'value', gridIndex: 4, min: 0, max: 1, show: false},
    {type: 'value', gridIndex: 5, min: 0, max: 1, show: false}
  ],
  yAxis: [
    scaleOnlyAxis(0, priceRange),
    scaleOnlyAxis(0, volumeRange),
    scaleOnlyAxis(1, macdRange),
    scaleOnlyAxis(2, rsiRange),
    labelAxis(3, priceRange, priceTicks, [0, 0, 2, 0]),
    labelAxis(4, macdRange, macdTicks, [2, 0, 0, 0]),
    labelAxis(5, rsiRange, rsiTicks, [2, 0, 0, 0])
  ],
  series: [
    {name: 'Vol', type: 'bar', data: volumeBars, xAxisIndex: 0, yAxisIndex: 1, barWidth: 5, clip: false, silent: true, z: 1},
    {name: 'BB floor', type: 'line', data: bbLower, stack: 'bb', xAxisIndex: 0, yAxisIndex: 0, showSymbol: false, silent: true, lineStyle: {width: 0, opacity: 0}, z: 1},
    {name: 'BB fill', type: 'line', data: bandWidth, stack: 'bb', xAxisIndex: 0, yAxisIndex: 0, showSymbol: false, silent: true, lineStyle: {width: 0, opacity: 0}, areaStyle: {color: 'rgba(19,132,132,0.055)', opacity: 1}, z: 1},
    plainLine('MA 200', ma200Full, MA_LINE, 0, 0, 2),
    plainLine('MA 50', ma50, MA_LINE, 0, 0, 2),
    plainLine('BB upper', bbUpper, BAND_LINE, 0, 0, 2),
    plainLine('BB lower', bbLower, BAND_LINE, 0, 0, 2),
    plainLine('BB basis', bbBasis, BASIS_LINE, 0, 0, 2),
    {name: 'Price', type: 'candlestick', data: candles, xAxisIndex: 0, yAxisIndex: 0, barWidth: 5, clip: false, silent: true, z: 3,
      itemStyle: {color: UP, color0: DOWN, borderColor: UP, borderColor0: DOWN, borderWidth: 1}},
    {name: 'Histogram', type: 'bar', data: macdHist, xAxisIndex: 1, yAxisIndex: 2, barWidth: 1, clip: false, silent: true, itemStyle: {color: '#ff0080'}, z: 2},
    plainLine('Signal', macdSignal, '#ff6d00', 1, 2, 3, 1.1),
    plainLine('MACD', macdLine, '#2196f3', 1, 2, 3, 1.1),
    plainLine('RSI', rsiLine, '#9c27b0', 2, 3, 3, 1.2)
  ]
});

// Overlays placed from the axis scales once layout is known
const priceY = v => chart.convertToPixel({yAxisIndex: 0}, v);
const volY = v => chart.convertToPixel({yAxisIndex: 1}, v);
const macdY = v => chart.convertToPixel({yAxisIndex: 2}, v);
const rsiY = v => chart.convertToPixel({yAxisIndex: 3}, v);

const tag = (text, y, color, w) => ([
  {type: 'rect', z: 50, silent: true, shape: {x: 1854, y: Math.round(y - 8.5), width: w || 60, height: 17, r: 2}, style: {fill: color}},
  {type: 'text', z: 51, silent: true, x: 1861.5, y: Math.round(y) + 1, style: {text, fill: '#ffffff', font: '12px ' + FONT, verticalAlign: 'middle'}}
]);
const headerRich = {
  d: {fill: INK, font: ROW_FONT},
  g: {fill: '#6a6d78', font: ROW_FONT},
  up: {fill: '#22ab94', font: ROW_FONT},
  vol: {fill: '#42bda8', font: ROW_FONT},
  r: {fill: '#8f3a3d', font: ROW_FONT},
  t: {fill: '#2b8f8f', font: ROW_FONT},
  b: {fill: '#4a8cb8', font: ROW_FONT},
  pk: {fill: '#ff2f8b', font: ROW_FONT},
  bl: {fill: '#2a9df4', font: ROW_FONT},
  or: {fill: '#ff8a2b', font: ROW_FONT},
  pu: {fill: '#9c27b0', font: ROW_FONT}
};
const rowText = (x, y, text) => ({
  type: 'text', z: 60, silent: true, x, y: y + 1.5,
  style: {text, rich: headerRich, fill: INK, font: ROW_FONT, verticalAlign: 'middle'}
});
const stroke = (x1, y1, x2, y2, color, extra) => ({
  type: 'line', silent: true, z: (extra && extra.z) || 1,
  shape: {x1, y1, x2, y2}, style: Object.assign({stroke: color, lineWidth: 1}, extra && extra.style)
});

const rsi70 = Math.round(rsiY(70)), rsi30 = Math.round(rsiY(30));
const postY = Math.round(priceY(1647.7)) + 1;

const elements = [
  // RSI zone with dashed bounds
  {type: 'rect', silent: true, z: -1, shape: {x: 0, y: rsi70, width: 1853, height: rsi30 - rsi70}, style: {fill: '#f4e6fd'}},
  stroke(0, rsi70 + 0.5, 1853, rsi70 + 0.5, '#b7b3bd', {style: {lineDash: [4, 3]}}),
  stroke(0, rsi30 + 0.5, 1853, rsi30 + 0.5, '#b7b3bd', {style: {lineDash: [4, 3]}}),
  // Last price line
  stroke(0, postY, 1853, postY, '#2a7fc0', {z: 4, style: {lineDash: [1, 2], lineWidth: 2}}),
  // Pane separators and frame
  stroke(0, 785.5, 1920, 785.5, '#e3e5ea'),
  stroke(0, 1178.5, 1920, 1178.5, '#e3e5ea'),
  {type: 'rect', silent: true, z: 70, shape: {x: 0.5, y: 0.5, width: 1919, height: 1599}, style: {fill: 'none', stroke: '#d4d4d4', lineWidth: 1}},

  // Price scale tags
  ...tag('1,843.59', priceY(1843.59) - 1, '#138484'),
  {type: 'rect', silent: true, z: 50, shape: {x: 1821, y: 131, width: 32, height: 17, r: 2}, style: {fill: '#2962ff'}},
  {type: 'text', silent: true, z: 51, x: 1837, y: 140.5, style: {text: 'Post', fill: '#fff', font: '12px ' + FONT, align: 'center', verticalAlign: 'middle'}},
  ...tag('1,647.70', 139.5, '#2962ff'),
  ...tag('1,642.00', priceY(1642) - 0.5, '#089981'),
  ...tag('1,557.67', priceY(1557.67) - 1, '#872323'),
  ...tag('1,271.74', priceY(1271.74) - 1, '#138484'),
  ...tag('1,200.66', priceY(1200.66), '#3f7fa8'),
  ...tag('538.23', priceY(538.23), '#3f7fa8', 50),
  ...tag('8.12 M', volY(8.12), '#3fa896', 50),
  // MACD tags
  ...tag('153.94', macdY(153.94), '#ff6d00', 50),
  ...tag('140.62', macdY(140.62), '#0091ff', 50),
  ...tag('\u221213.32', macdY(-13.32), '#ff0073', 50),
  // RSI tag
  ...tag('58.49', rsiY(58.49), '#8e1599', 43),

  // Symbol mark
  {type: 'circle', silent: true, z: 60, shape: {cx: 19, cy: 17, r: 9}, style: {fill: '#e9ecf7'}},
  {type: 'polygon', silent: true, z: 61, shape: {points: [[14.5,12],[23.5,12],[22.5,14.5],[18.5,14.5],[23.5,18],[22,22.5],[14,22.5],[15,20],[19.5,20],[14,16]]}, style: {fill: '#e2231a'}},
  {type: 'text', silent: true, z: 60, x: 32, y: 18, style: {text: 'Sandisk Corporation \u00b7 1D \u00b7 Cboe One', fill: INK, font: '16px ' + FONT, verticalAlign: 'middle'}},

  // Session and delayed-data badge
  {type: 'rect', silent: true, z: 60, shape: {x: 314, y: 8, width: 40, height: 18, r: 9}, style: {fill: '#fdf1df'}},
  {type: 'rect', silent: true, z: 61, shape: {x: 314, y: 8, width: 20, height: 18, r: [9, 0, 0, 9]}, style: {fill: '#dde5fb'}},
  {type: 'circle', silent: true, z: 62, shape: {cx: 324.5, cy: 17, r: 5}, style: {fill: '#1c3fbf'}},
  {type: 'circle', silent: true, z: 63, shape: {cx: 327.5, cy: 17, r: 4}, style: {fill: '#dde5fb'}},
  {type: 'text', silent: true, z: 62, x: 343.5, y: 17.5, style: {text: 'D', fill: '#ff9100', font: '12px ' + FONT, align: 'center', verticalAlign: 'middle'}},

  // Legend rows
  rowText(362, 16, '{d|O}{up|1,634.00}  {d|H}{up|1,694.99}  {d|L}{up|1,602.00}  {d|C}{up|1,642.00}  {up|+82.68 (+5.30%)}'),
  rowText(10, 40, '{d|Vol}   {vol|8.12 M}'),
  rowText(10, 64, '{d|BB} {g|20 close 2}   {r|1,557.67}  {t|1,843.59}  {t|1,271.74}'),
  rowText(10, 88, '{d|MA} {g|50 close}   {b|1,200.66}'),
  rowText(10, 112, '{d|MA} {g|200 close}   {b|538.23}'),
  rowText(10, 801, '{d|MACD} {g|12 26 close 9}   {pk|\u221213.32}  {bl|140.62}  {or|153.94}'),
  rowText(10, 1194, '{d|RSI} {g|14 close}   {pu|58.49}'),

  // Collapse button
  {type: 'rect', silent: true, z: 60, shape: {x: 10.5, y: 128.5, width: 28, height: 20, r: 3}, style: {fill: '#fff', stroke: '#dfe1e6', lineWidth: 1}},
  {type: 'polyline', silent: true, z: 61, shape: {points: [[21, 140.5],[24.5, 137],[28, 140.5]]}, style: {fill: 'none', stroke: INK, lineWidth: 1.4}},

  // Chart watermark
  {type: 'circle', silent: true, z: 60, shape: {cx: 31, cy: 1539, r: 16.5}, style: {fill: '#fff', stroke: '#ececec', lineWidth: 1}},
  {type: 'polygon', silent: true, z: 61, shape: {points: [[20,1534],[28.5,1534],[28.5,1545],[24,1545],[24,1538.5],[20,1538.5]]}, style: {fill: '#131722'}},
  {type: 'circle', silent: true, z: 61, shape: {cx: 31.5, cy: 1536.3, r: 2.2}, style: {fill: '#131722'}},
  {type: 'polygon', silent: true, z: 61, shape: {points: [[36,1534],[41.5,1534],[36.5,1545],[31,1545]]}, style: {fill: '#131722'}},

  // Scale settings glyph
  {type: 'polygon', silent: true, z: 60, shape: {points: [[1879.5,1585.7],[1883.2,1579.5],[1890.8,1579.5],[1894.5,1585.7],[1890.8,1592],[1883.2,1592]]}, style: {fill: 'none', stroke: INK, lineWidth: 1.1}},
  {type: 'circle', silent: true, z: 60, shape: {cx: 1887, cy: 1585.7, r: 2.4}, style: {fill: 'none', stroke: INK, lineWidth: 1.1}}
];
chart.setOption({graphic: {elements}});
</script>
</body>
</html>
